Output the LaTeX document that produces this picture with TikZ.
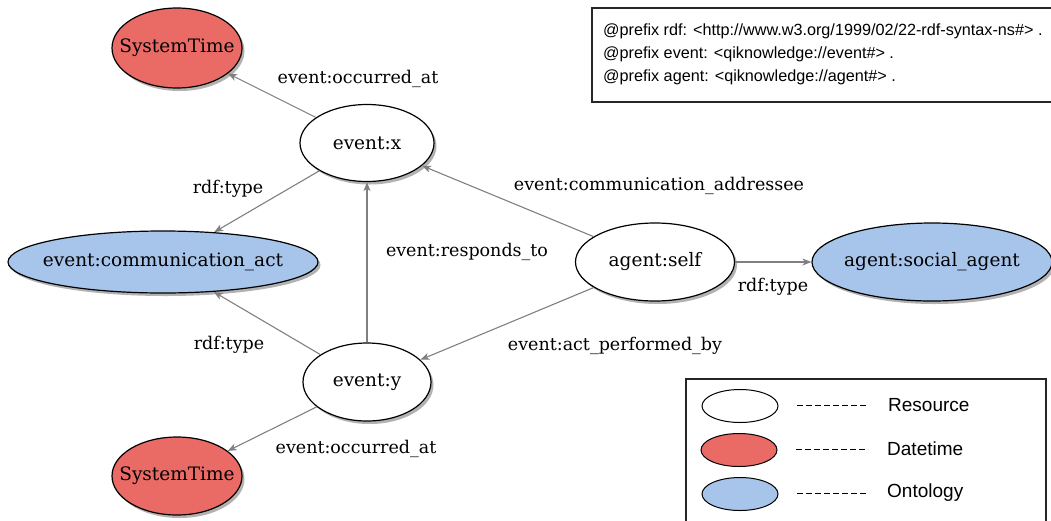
\documentclass[tikz,border=0pt]{standalone}
\usepackage{fontspec}
\setmainfont{DejaVu Serif}
\newfontfamily\legendfont{Liberation Sans}
\usetikzlibrary{shapes.geometric,shadows,arrows.meta}
\definecolor{dtred}{RGB}{234,106,102}
\definecolor{ontoblue}{RGB}{167,196,234}
\definecolor{edgegray}{RGB}{128,128,128}
% zero-width label so that the ellipse keeps its given size
\newcommand{\zwlabel}[1]{\makebox[0pt]{#1}}
\tikzset{
  res/.style={ellipse, draw=black, line width=1.2pt, inner sep=0pt,
    font=\fontsize{18.5}{21}\selectfont,
    drop shadow={shadow xshift=2.5pt, shadow yshift=-3pt, fill=black!30, opacity=1}},
  resource/.style={res, fill=white},
  datetime/.style={res, fill=dtred},
  ontology/.style={res, fill=ontoblue},
  rel/.style={draw=edgegray, line width=1.1pt, -{Stealth[length=9pt,width=7pt,inset=2.5pt]}},
  rellabel/.style={font=\fontsize{17.5}{20}\selectfont, inner sep=0pt},
  legbox/.style={draw=black!85, line width=1.2pt},
  legtext/.style={font=\legendfont\fontsize{19}{22}\selectfont, anchor=west, inner sep=0pt},
  prefixtext/.style={font=\legendfont\fontsize{16.2}{19}\selectfont, anchor=west, inner sep=0pt},
  legshape/.style={ellipse, draw=black, line width=1pt, minimum width=76pt, minimum height=33pt, inner sep=0pt},
  legdash/.style={line width=0.9pt, dash pattern=on 6pt off 3pt}
}
\begin{document}
\begin{tikzpicture}[x=1pt,y=-1pt]
\useasboundingbox (0,0) rectangle (1051,520);

% prefix declarations
\draw[legbox] (1060,8) -- (592,8) -- (592,102) -- (1060,102);
\node[prefixtext] (p1) at (603,31) {@prefix rdf: <http://www.w3.org/1999/02/22-rdf-syntax-ns\#> .};
\node[prefixtext] (p2) at (603,54) {@prefix event: <qiknowledge://event\#> .};
\node[prefixtext] (p3) at (603,77) {@prefix agent: <qiknowledge://agent\#> .};

% graph nodes
\node[datetime, minimum width=130pt, minimum height=80pt] (st1) at (177,48) {\zwlabel{SystemTime}};
\node[resource, minimum width=134pt, minimum height=77pt] (ex) at (367,143) {\zwlabel{event:x}};
\node[ontology, minimum width=310pt, minimum height=62pt] (ca) at (163,262) {\zwlabel{event:communication\_act}};
\node[resource, minimum width=128pt, minimum height=78pt] (ey) at (367,382) {\zwlabel{event:y}};
\node[datetime, minimum width=130pt, minimum height=78pt] (st2) at (177,476) {\zwlabel{SystemTime}};
\node[resource, minimum width=159pt, minimum height=78pt] (as) at (655,262) {\zwlabel{agent:self}};
\node[ontology, minimum width=240pt, minimum height=78pt] (sa) at (932,262) {\zwlabel{agent:social\_agent}};

% relations
\draw[rel] (ex) -- (st1);
\draw[rel] (ex) -- (ca);
\draw[rel] (ey) -- (ca);
\draw[rel] (ey) -- (ex);
\draw[rel] (as) -- (ex);
\draw[rel] (as) -- (ey);
\draw[rel] (as) -- (sa);
\draw[rel] (ey) -- (st2);

% relation labels
\node[rellabel] (l1) at (358,79) {event:occurred\_at};
\node[rellabel] (l2) at (228,189) {rdf:type};
\node[rellabel] (l3) at (229,345) {rdf:type};
\node[rellabel] (l4) at (467,252) {event:responds\_to};
\node[rellabel] (l5) at (659,186) {event:communication\_addressee};
\node[rellabel] (l6) at (615,346) {event:act\_performed\_by};
\node[rellabel] (l7) at (773,287) {rdf:type};
\node[rellabel] (l8) at (356,449) {event:occurred\_at};

% legend
\draw[legbox] (686,530) -- (686,379) -- (1046,379) -- (1046,530);
\node[legshape, fill=white] (k1) at (740,406) {};
\node[legshape, fill=dtred] (k2) at (739,450) {};
\node[legshape, fill=ontoblue] (k3) at (740,494) {};
\coordinate (d1a) at (797,405); \coordinate (d1b) at (868,405);
\coordinate (d2a) at (796,449); \coordinate (d2b) at (868,449);
\coordinate (d3a) at (797,493); \coordinate (d3b) at (868,493);
\draw[legdash] (d1a) -- (d1b);
\draw[legdash] (d2a) -- (d2b);
\draw[legdash] (d3a) -- (d3b);
\node[legtext] (t1) at (888,405) {Resource};
\node[legtext] (t2) at (887,449) {Datetime};
\node[legtext] (t3) at (887,493) {Ontology};
\end{tikzpicture}
\end{document}
